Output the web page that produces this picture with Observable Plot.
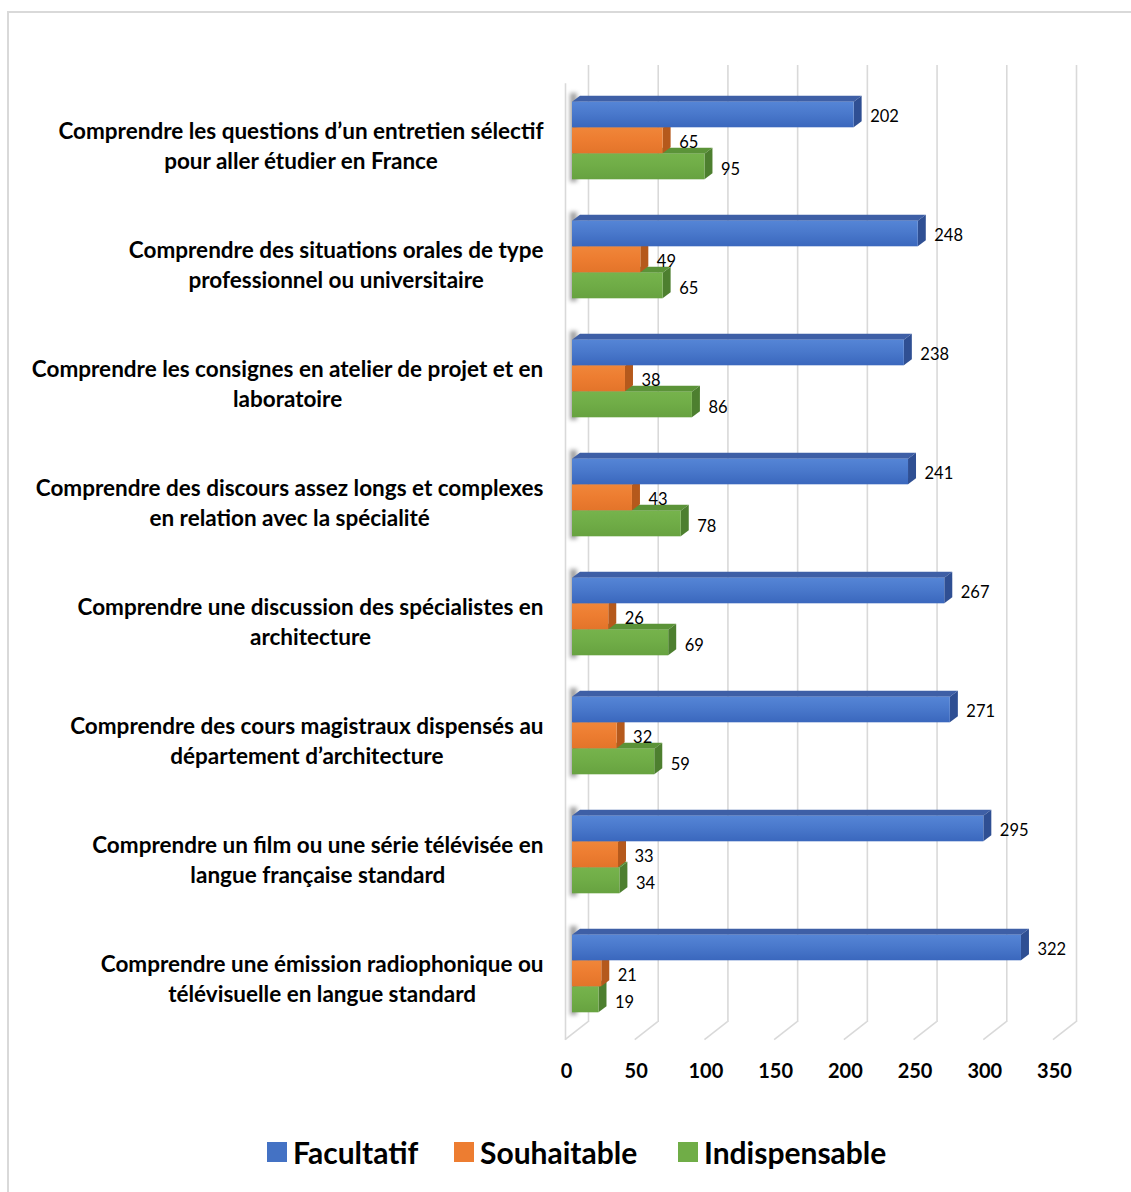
<!DOCTYPE html>
<html>
<head>
<meta charset="utf-8">
<script src="https://cdn.jsdelivr.net/npm/d3@7"></script>
<script src="https://cdn.jsdelivr.net/npm/@observablehq/plot@0.6"></script>
<style>
  html, body { margin: 0; padding: 0; background: #fff; }
  #wrap { position: relative; width: 1131px; height: 1192px; overflow: hidden; font-family: Lato, "Open Sans", sans-serif; }
  #frame { position: absolute; left: 7px; top: 11px; width: 1200px; height: 1300px; border-left: 2px solid #d9d9d9; border-top: 2px solid #d9d9d9; }
  #chart { position: absolute; left: 0; top: 0; }
  #legend { position: absolute; top: 1134px; left: 0; width: 1131px; height: 36px; }
  .item { position: absolute; top: 0; display: flex; align-items: center; height: 36px; }
  .sw { width: 20px; height: 20px; margin-right: 6px; }
  .lab { font-weight: 700; font-size: 30px; color: #000; }
</style>
</head>
<body>
<div id="wrap">
  <div id="frame"></div>
  <div id="chart"></div>
  <div id="legend"></div>
</div>
<script>
// ---- data ----
const categories = [
  "Comprendre les questions d’un entretien sélectif\npour aller étudier en France",
  "Comprendre des situations orales de type\nprofessionnel ou universitaire",
  "Comprendre les consignes en atelier de projet et en\nlaboratoire",
  "Comprendre des discours assez longs et complexes\nen relation avec la spécialité",
  "Comprendre une discussion des spécialistes en\narchitecture",
  "Comprendre des cours magistraux dispensés au\ndépartement d’architecture",
  "Comprendre un film ou une série télévisée en\nlangue française standard",
  "Comprendre une émission radiophonique ou\ntélévisuelle en langue standard"
];
const seriesNames = ["Facultatif", "Souhaitable", "Indispensable"];
const facultatif    = [202, 248, 238, 241, 267, 271, 295, 322];
const souhaitable   = [65, 49, 38, 43, 26, 32, 33, 21];
const indispensable = [95, 65, 86, 78, 69, 59, 34, 19];
const xTicks = [0, 50, 100, 150, 200, 250, 300, 350];

const seriesValues = {Facultatif: facultatif, Souhaitable: souhaitable, Indispensable: indispensable};
const table = seriesNames.flatMap(s => categories.map((c, i) => ({cat: c, s, v: seriesValues[s][i]})));

// ---- styles ----
const W = 1131, H = 1100;
const D = 8, E = 6; // 3D depth offsets (px)
const styles = {
  Facultatif:    {grad: "gBlue",   top: "#3e5fa6", side: "#2f4f93", swatch: "#4472c4", insetTop: 20.7, insetBottom: 72.7, dy: -24,
                  stops: ["#5585d6", "#4a79cc", "#3a67bd"]},
  Souhaitable:   {grad: "gOrange", top: "#c8631f", side: "#b5591c", swatch: "#ed7d31", insetTop: 46.7, insetBottom: 46.7, dy: 1.5,
                  stops: ["#f08639", "#ed7d31", "#e3742a"]},
  Indispensable: {grad: "gGreen",  top: "#5b9338", side: "#4d7f2f", swatch: "#70ad47", insetTop: 72.7, insetBottom: 20.7, dy: 28.5,
                  stops: ["#76b34c", "#70ad47", "#67a240"]}
};

function defsMark() {
  const defs = d3.create("svg:defs");
  for (const s of seriesNames) {
    const st = styles[s];
    const g = defs.append("linearGradient").attr("id", st.grad).attr("x1", 0).attr("x2", 0).attr("y1", 0).attr("y2", 1);
    g.append("stop").attr("offset", "0%").attr("stop-color", st.stops[0]);
    g.append("stop").attr("offset", "45%").attr("stop-color", st.stops[1]);
    g.append("stop").attr("offset", "100%").attr("stop-color", st.stops[2]);
  }
  defs.append("filter").attr("id", "blurS").attr("x", "-200%").attr("width", "500%")
    .append("feGaussianBlur").attr("stdDeviation", 2);
  return defs.node();
}

function bar3d(st) {
  return function(index, scales, values) {
    const g = d3.create("svg:g");
    const bw = scales.y.bandwidth();
    for (const i of index) {
      const x1 = Math.min(values.x1[i], values.x2[i]);
      const x2 = Math.max(values.x1[i], values.x2[i]);
      const yT = values.y[i] + st.insetTop;
      const yB = values.y[i] + bw - st.insetBottom;
      g.append("polygon").attr("points", [[x1, yT], [x1 + D, yT - E], [x2 + D, yT - E], [x2, yT]].join(" ")).attr("fill", st.top);
      g.append("polygon").attr("points", [[x2, yT], [x2 + D, yT - E], [x2 + D, yB - E], [x2, yB]].join(" ")).attr("fill", st.side);
      g.append("rect").attr("x", x1).attr("y", yT).attr("width", Math.max(0, x2 - x1)).attr("height", yB - yT).attr("fill", `url(#${st.grad})`);
    }
    return g.node();
  };
}

function diagonals(index, scales, values, dims) {
  const g = d3.create("svg:g").attr("stroke", "#d9d9d9").attr("stroke-width", 1.6);
  const yb = dims.height - dims.marginBottom;
  for (const i of index) {
    const x = values.x[i];
    g.append("line").attr("x1", x + 16).attr("y1", yb - 13).attr("x2", x - 7).attr("y2", yb + 5);
  }
  return g.node();
}

// shadows on the left wall
function wallShadow(index, scales, values) {
  const g = d3.create("svg:g");
  const bw = scales.y.bandwidth();
  const x0 = scales.x(0);
  for (const i of index) {
    const y0 = values.y[i];
    g.append("rect").attr("x", x0 - 2).attr("y", y0 + 12).attr("width", 7).attr("height", bw - 30)
      .attr("fill", "#555").attr("opacity", 0.55).attr("filter", "url(#blurS)");
  }
  return g.node();
}

// measure label widths to center lines within each block (Excel style)
const LABEL_FS = 22.5;
const ctx = document.createElement("canvas").getContext("2d");
ctx.font = `bold ${LABEL_FS}px Lato`;
const labelMarks = categories.map(c => {
  const w = d3.max(c.split("\n"), l => ctx.measureText(l).width);
  return Plot.text([c], {
    y: d => d, text: d => d, frameAnchor: "left", textAnchor: "middle",
    dx: -(29 + w / 2), dy: 3, lineHeight: 30 / LABEL_FS, fontSize: LABEL_FS, fontWeight: 700, fill: "#000"
  });
});

const chart = Plot.plot({
  width: W, height: H,
  marginLeft: 572, marginRight: 71, marginTop: 79.3, marginBottom: 65.3,
  style: {fontFamily: "Lato, 'Open Sans', sans-serif", background: "transparent"},
  x: {domain: [0, 350], axis: null, label: null},
  y: {domain: categories, padding: 0, axis: null},
  marks: [
    defsMark,
    Plot.ruleX(xTicks, {x: d => d, dx: 16, stroke: "#d9d9d9", strokeWidth: 1.6, insetTop: -14.3, insetBottom: 12.7}),
    Plot.ruleX(xTicks, {x: d => d, render: diagonals}),
    Plot.ruleX([0], {x: d => d, dx: -7, stroke: "#d9d9d9", strokeWidth: 1.6, insetTop: 4, insetBottom: -5}),
    Plot.barX(categories, {x: () => 1, y: d => d, render: wallShadow}),
    ...["Indispensable", "Souhaitable", "Facultatif"].map(s =>
      Plot.barX(table.filter(d => d.s === s), {x: "v", y: "cat", render: bar3d(styles[s])})
    ),
    ...seriesNames.map(s =>
      Plot.text(table.filter(d => d.s === s), {x: "v", y: "cat", text: d => String(d.v), dx: 16, dy: styles[s].dy,
        textAnchor: "start", fontSize: 16.5, fill: "#000"})
    ),
    ...labelMarks,
    Plot.axisX(xTicks, {anchor: "bottom", label: null, tickSize: 0, tickPadding: 29, dx: -6, fontSize: 20, fontWeight: 700, fill: "#000", tickFormat: d => String(d)})
  ]
});
document.getElementById("chart").appendChild(chart);

// legend
const legend = document.getElementById("legend");
const legendLeft = {Facultatif: 267, Souhaitable: 454, Indispensable: 678};
for (const s of seriesNames) {
  const it = document.createElement("div");
  it.className = "item";
  it.style.left = legendLeft[s] + "px";
  const sw = document.createElement("div");
  sw.className = "sw";
  sw.style.background = styles[s].swatch;
  const lb = document.createElement("span");
  lb.className = "lab";
  lb.textContent = s;
  it.appendChild(sw); it.appendChild(lb);
  legend.appendChild(it);
}
</script>
</body>
</html>
